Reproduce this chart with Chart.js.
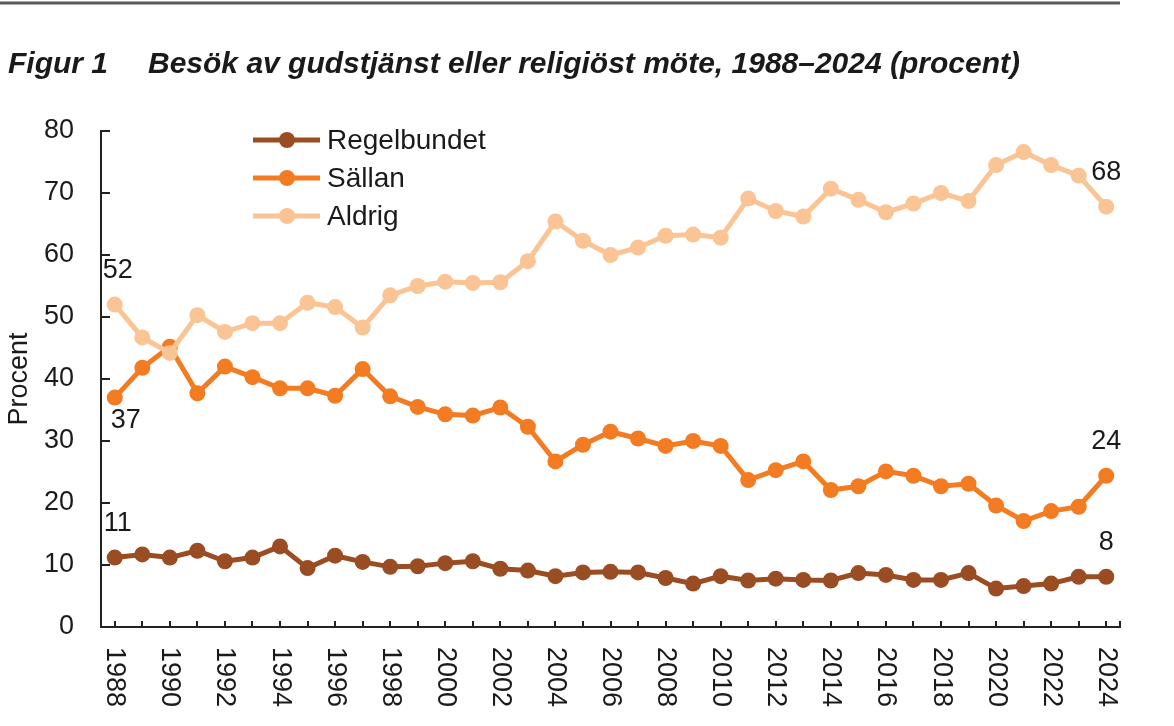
<!DOCTYPE html>
<html lang="sv">
<head>
<meta charset="utf-8">
<title>Figur 1</title>
<script src="https://cdn.jsdelivr.net/npm/chart.js@4.4.1/dist/chart.umd.min.js"></script>
<style>
  html, body { margin: 0; padding: 0; background: #fff; }
  #wrap { width: 1174px; height: 726px; }
</style>
</head>
<body>
<div id="wrap"><canvas id="chart" width="1174" height="726"></canvas></div>
<script>
const figureNo = 'Figur 1';
const figureTitle = 'Besök av gudstjänst eller religiöst möte, 1988–2024 (procent)';
const yTitle = 'Procent';

const years = ['1988','1989','1990','1991','1992','1993','1994','1995','1996','1997',
  '1998','1999','2000','2001','2002','2003','2004','2005','2006','2007',
  '2008','2009','2010','2011','2012','2013','2014','2015','2016','2017',
  '2018','2019','2020','2021','2022','2023','2024'];
const xTickLabels = ['1988','1990','1992','1994','1996','1998','2000','2002','2004','2006',
  '2008','2010','2012','2014','2016','2018','2020','2022','2024'];

const regelbundet = [11.2, 11.7, 11.2, 12.3, 10.6, 11.2, 13.0, 9.5, 11.5, 10.5,
  9.7, 9.8, 10.3, 10.6, 9.4, 9.1, 8.2, 8.8, 8.9, 8.8,
  7.9, 7.0, 8.2, 7.5, 7.8, 7.6, 7.5, 8.7, 8.4, 7.6,
  7.6, 8.7, 6.2, 6.6, 7.0, 8.1, 8.1];
const sallan = [37.0, 41.8, 45.2, 37.7, 42.0, 40.3, 38.5, 38.5, 37.3, 41.6,
  37.2, 35.5, 34.3, 34.1, 35.4, 32.3, 26.7, 29.4, 31.5, 30.4,
  29.2, 30.0, 29.2, 23.7, 25.3, 26.7, 22.1, 22.7, 25.1, 24.4,
  22.7, 23.1, 19.6, 17.1, 18.7, 19.4, 24.4];
const aldrig = [52.0, 46.7, 44.2, 50.3, 47.6, 49.0, 49.0, 52.3, 51.6, 48.3,
  53.5, 55.0, 55.7, 55.5, 55.6, 59.0, 65.4, 62.3, 60.0, 61.2,
  63.1, 63.3, 62.8, 69.1, 67.1, 66.2, 70.7, 68.9, 66.9, 68.3,
  70.0, 68.7, 74.5, 76.6, 74.5, 72.8, 67.8];

const FONT = '"Liberation Sans", Arial, Helvetica, sans-serif';
const TEXT = '#1a1a1a';
const SIZE = 27;

const decor = {
  id: 'decor',
  afterDraw(chart) {
    const { ctx, chartArea: a, scales: { x, y } } = chart;
    ctx.save();

    // rule above the figure
    ctx.strokeStyle = '#595959';
    ctx.lineWidth = 3;
    ctx.beginPath();
    ctx.moveTo(0, 3);
    ctx.lineTo(1120, 3);
    ctx.stroke();

    // figure title
    ctx.fillStyle = TEXT;
    ctx.font = 'italic bold 30px ' + FONT;
    ctx.textAlign = 'left';
    ctx.textBaseline = 'alphabetic';
    ctx.fillText(figureNo, 8, 73);
    ctx.fillText(figureTitle, 148, 73);

    // tick marks pointing into the plot
    ctx.strokeStyle = '#222';
    ctx.lineWidth = 2;
    ctx.beginPath();
    y.ticks.forEach(t => {
      const py = Math.round(y.getPixelForValue(t.value));
      ctx.moveTo(a.left, py);
      ctx.lineTo(a.left + 9, py);
    });
    years.forEach((_, i) => {
      const px = Math.round(x.getPixelForValue(i));
      ctx.moveTo(px, a.bottom);
      ctx.lineTo(px, a.bottom - 6);
    });
    ctx.moveTo(a.right, a.bottom);
    ctx.lineTo(a.right, a.bottom - 6);
    ctx.stroke();

    // x labels, turned clockwise
    ctx.font = SIZE + 'px ' + FONT;
    ctx.fillStyle = TEXT;
    ctx.textAlign = 'left';
    ctx.textBaseline = 'middle';
    xTickLabels.forEach(lbl => {
      const px = x.getPixelForValue(years.indexOf(lbl));
      ctx.save();
      ctx.translate(px, a.bottom + 20);
      ctx.rotate(Math.PI / 2);
      ctx.fillText(lbl, 0, 0);
      ctx.restore();
    });

    // legend
    ctx.font = '28px ' + FONT;
    chart.data.datasets.forEach((ds, i) => {
      const ly = 140 + i * 38;
      ctx.strokeStyle = ds.borderColor;
      ctx.lineWidth = 5;
      ctx.beginPath();
      ctx.moveTo(253, ly);
      ctx.lineTo(320, ly);
      ctx.stroke();
      ctx.fillStyle = ds.backgroundColor;
      ctx.beginPath();
      ctx.arc(287, ly, 8, 0, Math.PI * 2);
      ctx.fill();
      ctx.fillStyle = TEXT;
      ctx.textAlign = 'left';
      ctx.textBaseline = 'middle';
      ctx.fillText(ds.label, 327, ly + 1);
    });

    // first and last values
    ctx.font = SIZE + 'px ' + FONT;
    ctx.textAlign = 'center';
    ctx.textBaseline = 'middle';
    chart.data.datasets.forEach((ds, i) => {
      const pts = chart.getDatasetMeta(i).data;
      const last = pts.length - 1;
      [0, last].forEach(j => {
        const below = ds.label === 'Sällan' && j === 0;
        const dx = below ? 11 : (j === 0 ? 3 : 0);
        const dy = below ? 23 : -34;
        ctx.fillStyle = TEXT;
        ctx.fillText(String(Math.round(ds.data[j])), pts[j].x + dx, pts[j].y + dy);
      });
    });

    ctx.restore();
  }
};

function series(label, data, color, order) {
  return {
    label, data, order,
    borderColor: color,
    backgroundColor: color,
    pointBackgroundColor: color,
    pointBorderWidth: 0,
    pointRadius: 8,
    borderWidth: 5,
    tension: 0
  };
}

new Chart(document.getElementById('chart'), {
  type: 'line',
  data: {
    labels: years,
    datasets: [
      series('Regelbundet', regelbundet, '#9A4D22', 3),
      series('Sällan', sallan, '#F37C22', 2),
      series('Aldrig', aldrig, '#FAC494', 1)
    ]
  },
  options: {
    responsive: false,
    animation: false,
    devicePixelRatio: 1,
    layout: { padding: { top: 131, right: 54, left: 0, bottom: 0 } },
    plugins: { legend: { display: false }, tooltip: { enabled: false } },
    scales: {
      x: {
        offset: true,
        grid: { display: false, drawTicks: false },
        border: { display: true, color: '#222', width: 2 },
        ticks: { display: false },
        afterFit: s => { s.height = 99; }
      },
      y: {
        min: 0,
        max: 80,
        grid: { display: false, drawTicks: false },
        border: { display: true, color: '#222', width: 2 },
        ticks: { stepSize: 10, padding: 27, color: TEXT, font: { family: FONT, size: SIZE } },
        title: { display: true, text: yTitle, color: TEXT, padding: { top: 3, bottom: 0 }, font: { family: FONT, size: SIZE } },
        afterFit: s => { s.width = 101; }
      }
    }
  },
  plugins: [decor]
});
</script>
</body>
</html>
